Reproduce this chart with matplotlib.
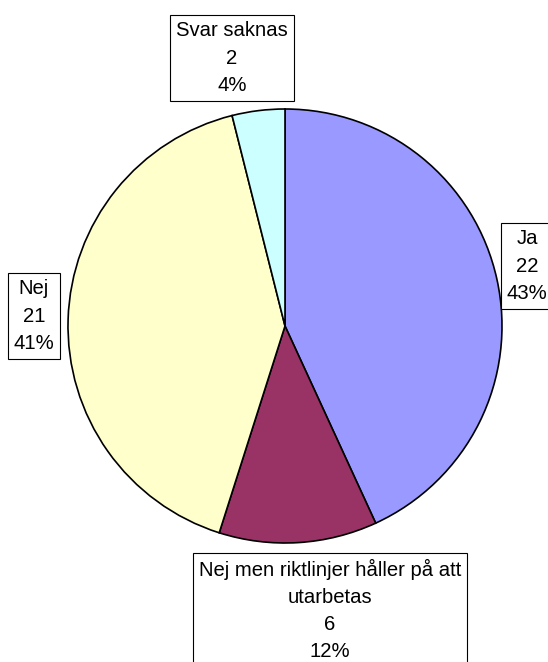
import matplotlib
matplotlib.use("Agg")
import matplotlib.pyplot as plt

labels = ["Ja", "Nej men riktlinjer håller på att\nutarbetas", "Nej", "Svar saknas"]
counts = [22, 6, 21, 2]
colors = ["#9999FF", "#993366", "#FFFFCC", "#CCFFFF"]

W, H = 548, 662
fig = plt.figure(figsize=(W / 100, H / 100), dpi=100)
ax = fig.add_axes([0, 0, 1, 1])

cx, cy, r = 285, H - 326, 217
ax.pie(counts, colors=colors, startangle=90, counterclock=False,
       center=(cx, cy), radius=r, frame=True,
       wedgeprops=dict(edgecolor="black", linewidth=1.2))
ax.set_xlim(0, W)
ax.set_ylim(0, H)
ax.set_aspect("equal")
ax.axis("off")

total = sum(counts)
# label box centres in pixel coords (x, y from top)
pos = [(527, 266), (330, 610), (34, 316), (232, 58)]
for lab, c, (px, py) in zip(labels, counts, pos):
    txt = f"{lab}\n{c}\n{round(100 * c / total)}%"
    ax.text(px, H - py, txt, ha="center", va="center", fontsize=14.6,
            multialignment="center",
            family=["Liberation Sans", "DejaVu Sans"], linespacing=1.55,
            bbox=dict(boxstyle="square,pad=0.3", facecolor="white",
                      edgecolor="black", linewidth=0.8))

fig.savefig("out.png", dpi=100)
